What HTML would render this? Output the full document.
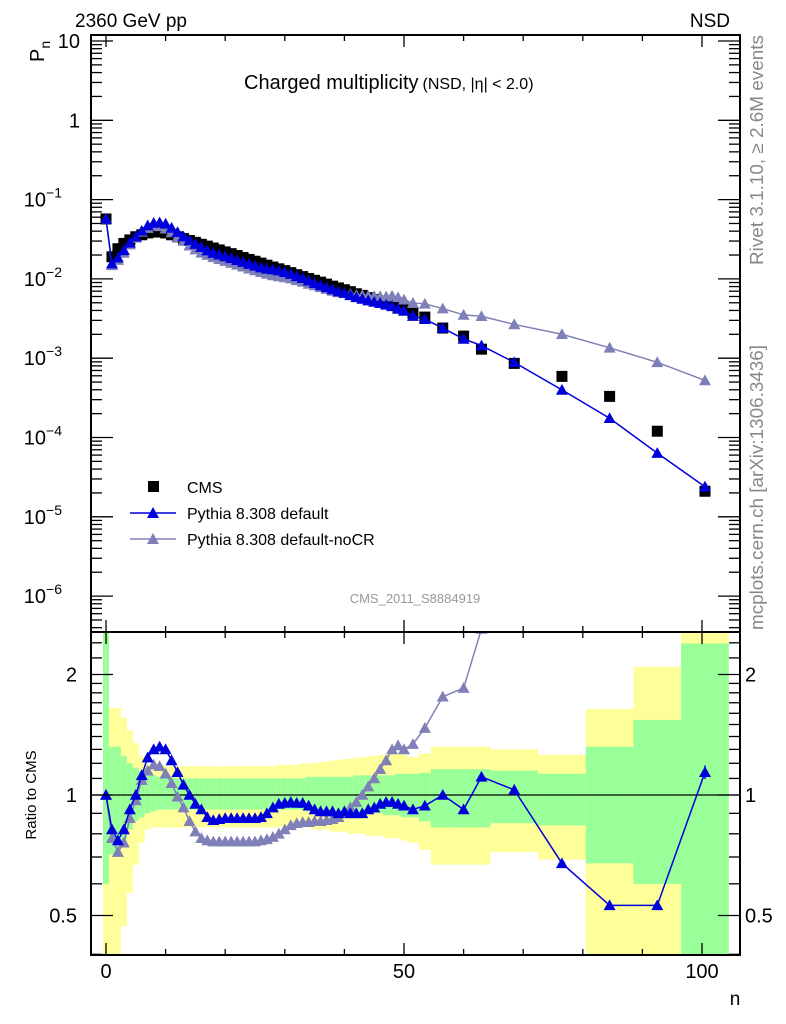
<!DOCTYPE html>
<html><head><meta charset="utf-8">
<style>
html,body{margin:0;padding:0;background:#fff;}
svg{display:block;font-family:"Liberation Sans",sans-serif;}
</style></head>
<body>
<svg id="chart" width="786" height="1024" viewBox="0 0 786 1024" xmlns="http://www.w3.org/2000/svg">
<rect x="0" y="0" width="786" height="1024" fill="#fff"/>
<g id="bands"></g>
<g id="marks"></g>
<g id="axes"></g>
<text x="75" y="27" font-size="19">2360 GeV pp</text>
<text x="730" y="27" font-size="19" text-anchor="end">NSD</text>
<text transform="translate(44,62) rotate(-90)" font-size="20">P<tspan font-size="14" dy="6">n</tspan></text>
<text x="244" y="89" font-size="20">Charged multiplicity<tspan font-size="16" dx="4">(NSD, |η| &lt; 2.0)</tspan></text>
<text transform="translate(763,265) rotate(-90)" font-size="18.5" fill="#888" textLength="230" lengthAdjust="spacingAndGlyphs">Rivet 3.1.10, ≥ 2.6M events</text>
<text transform="translate(763,630) rotate(-90)" font-size="18.5" fill="#888" textLength="285" lengthAdjust="spacingAndGlyphs">mcplots.cern.ch [arXiv:1306.3436]</text>
<text x="415" y="603" font-size="13" fill="#999" text-anchor="middle">CMS_2011_S8884919</text>
<text transform="translate(36,795) rotate(-90)" font-size="15" text-anchor="middle">Ratio to CMS</text>
<text x="735" y="1005" font-size="19" text-anchor="middle">n</text>
<g>
<rect x="148" y="481" width="11" height="11" fill="#000"/>
<text x="187" y="493" font-size="16">CMS</text>
<line x1="130" y1="513" x2="176" y2="513" stroke="#0000dd" stroke-width="1.5"/>
<polygon points="153,507 159,518 147,518" fill="#0000dd"/>
<text x="187" y="519" font-size="16">Pythia 8.308 default</text>
<line x1="130" y1="539" x2="176" y2="539" stroke="#8080b8" stroke-width="1.5"/>
<polygon points="153,533 159,544 147,544" fill="#8080b8"/>
<text x="187" y="545" font-size="16">Pythia 8.308 default-noCR</text>
</g>
</svg>
<script>
// ---- data ----
const nCenters = [0,1,2,3,4,5,6,7,8,9,10,11,12,13,14,15,16,17,18,19,20,21,22,23,24,25,26,27,28,29,30,31,32,33,34,35,36,37,38,39,40,41,42,43,44,45,46,47,48,49,50,51.5,53.5,56.5,60,63,68.5,76.5,84.5,92.5,100.5];
const binLo = [-0.5,0.5,1.5,2.5,3.5,4.5,5.5,6.5,7.5,8.5,9.5,10.5,11.5,12.5,13.5,14.5,15.5,16.5,17.5,18.5,19.5,20.5,21.5,22.5,23.5,24.5,25.5,26.5,27.5,28.5,29.5,30.5,31.5,32.5,33.5,34.5,35.5,36.5,37.5,38.5,39.5,40.5,41.5,42.5,43.5,44.5,45.5,46.5,47.5,48.5,49.5,50.5,52.5,54.5,58.5,61.5,64.5,72.5,80.5,88.5,96.5];
const binHi = [0.5,1.5,2.5,3.5,4.5,5.5,6.5,7.5,8.5,9.5,10.5,11.5,12.5,13.5,14.5,15.5,16.5,17.5,18.5,19.5,20.5,21.5,22.5,23.5,24.5,25.5,26.5,27.5,28.5,29.5,30.5,31.5,32.5,33.5,34.5,35.5,36.5,37.5,38.5,39.5,40.5,41.5,42.5,43.5,44.5,45.5,46.5,47.5,48.5,49.5,50.5,52.5,54.5,58.5,61.5,64.5,72.5,80.5,88.5,96.5,104.5];
const cmsValues = [0.057,0.019,0.024,0.028,0.031,0.034,0.036,0.038,0.039,0.039,0.038,0.036,0.034,0.0322,0.0305,0.0289,0.0273,0.0259,0.0245,0.0232,0.0219,0.0208,0.0197,0.0186,0.0176,0.0167,0.0158,0.0149,0.0141,0.0134,0.0127,0.0120,0.0113,0.0107,0.0101,0.0096,0.0091,0.0086,0.0081,0.0077,0.0073,0.0069,0.0065,0.0062,0.0058,0.0055,0.0052,0.0049,0.0047,0.0044,0.0042,0.0037,0.0033,0.0024,0.0019,0.0013,0.00086,0.00059,0.00033,0.00012,0.000021];
const ratioDefault = [1.0,0.82,0.77,0.82,0.92,1.0,1.12,1.24,1.30,1.32,1.30,1.22,1.14,1.06,1.0,0.95,0.92,0.88,0.865,0.87,0.875,0.875,0.875,0.875,0.875,0.875,0.88,0.90,0.93,0.95,0.955,0.96,0.955,0.955,0.94,0.92,0.91,0.91,0.91,0.90,0.91,0.90,0.90,0.90,0.92,0.93,0.95,0.96,0.96,0.95,0.94,0.92,0.94,1.0,0.92,1.11,1.03,0.675,0.53,0.53,1.14];
const ratioNoCR = [1.0,0.78,0.72,0.76,0.875,0.97,1.09,1.15,1.19,1.18,1.13,1.07,0.99,0.93,0.86,0.81,0.78,0.77,0.765,0.765,0.765,0.765,0.765,0.765,0.765,0.765,0.77,0.775,0.785,0.80,0.82,0.84,0.85,0.855,0.855,0.86,0.86,0.865,0.87,0.88,0.90,0.93,0.96,1.0,1.05,1.10,1.16,1.22,1.30,1.33,1.30,1.34,1.47,1.76,1.85,2.6,3.1,3.4,4.1,7.4,25];
const statUp = [3.0,1.32,1.32,1.25,1.20,1.17,1.15,1.13,1.12,1.11,1.11,1.11,1.10,1.10,1.10,1.10,1.10,1.10,1.10,1.10,1.10,1.10,1.10,1.10,1.10,1.10,1.10,1.10,1.10,1.10,1.10,1.10,1.10,1.10,1.11,1.11,1.11,1.11,1.11,1.11,1.11,1.11,1.12,1.12,1.12,1.12,1.12,1.12,1.12,1.13,1.13,1.13,1.135,1.16,1.16,1.16,1.15,1.13,1.32,1.54,2.39];
const statDn = [0.60,0.71,0.70,0.76,0.82,0.86,0.88,0.90,0.91,0.92,0.92,0.92,0.92,0.92,0.92,0.92,0.92,0.92,0.92,0.92,0.92,0.92,0.92,0.92,0.92,0.92,0.92,0.92,0.92,0.92,0.92,0.92,0.92,0.92,0.91,0.91,0.91,0.91,0.91,0.91,0.90,0.90,0.90,0.90,0.90,0.90,0.90,0.89,0.89,0.89,0.88,0.88,0.86,0.83,0.83,0.83,0.85,0.84,0.675,0.60,0.3];
const totUp = [3.0,1.65,1.65,1.56,1.45,1.35,1.25,1.19,1.19,1.19,1.18,1.18,1.18,1.18,1.18,1.18,1.18,1.18,1.18,1.18,1.18,1.18,1.18,1.18,1.18,1.18,1.18,1.18,1.18,1.19,1.19,1.19,1.19,1.20,1.20,1.20,1.21,1.21,1.22,1.22,1.23,1.23,1.24,1.24,1.25,1.25,1.26,1.26,1.27,1.27,1.28,1.245,1.27,1.32,1.32,1.32,1.30,1.26,1.64,2.09,3.0];
const totDn = [0.3,0.3,0.3,0.47,0.57,0.67,0.76,0.82,0.83,0.83,0.83,0.83,0.83,0.83,0.83,0.83,0.83,0.83,0.83,0.83,0.83,0.83,0.83,0.83,0.83,0.83,0.83,0.83,0.83,0.83,0.83,0.83,0.83,0.83,0.83,0.82,0.82,0.82,0.81,0.81,0.81,0.80,0.80,0.80,0.79,0.79,0.79,0.78,0.78,0.78,0.77,0.76,0.73,0.67,0.67,0.67,0.72,0.69,0.3,0.3,0.3];
const mainTickLabels = ["10","1","10","10","10","10","10","10"];
const mainTickExps = ["","","−1","−2","−3","−4","−5","−6"];
const ratioTickLabels = ["0.5","1","2"];
const xTickLabels = ["0","50","100"];

// ---- geometry ----
const L=91,R=740,T=35,MB=632,RB=955;
const xS = v => 106 + v*5.96;
const yM = v => 41 + (1 - Math.log10(v))*79.3;
const yR = v => 795 - Math.log2(v)*120.5;
const NS="http://www.w3.org/2000/svg";
function mk(tag,parent,attrs){const e=document.createElementNS(NS,tag);for(const k in attrs)e.setAttribute(k,attrs[k]);parent.appendChild(e);return e;}
const bands=document.getElementById('bands'), marks=document.getElementById('marks'), axes=document.getElementById('axes');
const cy = v => Math.min(RB, Math.max(MB, yR(v)));

// bands
for(let i=0;i<nCenters.length;i++){
  const x1=Math.max(L,xS(binLo[i])), x2=Math.min(R,xS(binHi[i]));
  const y=mk('rect',bands,{x:x1,y:cy(totUp[i]),width:x2-x1,height:cy(totDn[i])-cy(totUp[i]),fill:'#ffff99'});
  
  
  const g=mk('rect',bands,{x:x1,y:cy(statUp[i]),width:x2-x1,height:cy(statDn[i])-cy(statUp[i]),fill:'#99ff99'});
  
  
}
const ul=mk('line',marks,{x1:L,x2:R,y1:yR(1),y2:yR(1),stroke:'#000','stroke-width':1.3});



function tri(parent,x,y,col,s){return mk('polygon',parent,{points:`${x},${y-s} ${x+s},${y+s*0.8} ${x-s},${y+s*0.8}`,fill:col});}

const defs=mk('defs',document.getElementById('chart'),{});
const c1=mk('clipPath',defs,{id:'cm'});mk('rect',c1,{x:L,y:T,width:R-L,height:MB-T});
const c2=mk('clipPath',defs,{id:'cr'});mk('rect',c2,{x:L,y:MB,width:R-L,height:RB-MB});
const gm=mk('g',marks,{'clip-path':'url(#cm)'});
const gr=mk('g',marks,{'clip-path':'url(#cr)'});

function series(ratio,col,name){
  const ptsM=nCenters.map((n,i)=>`${xS(n)},${yM(cmsValues[i]*ratio[i])}`).join(' ');
  const pl=mk('polyline',gm,{points:ptsM,fill:'none',stroke:col,'stroke-width':1.5});
  
  
  const ptsR=nCenters.map((n,i)=>`${xS(n)},${yR(ratio[i])}`).join(' ');
  const pr=mk('polyline',gr,{points:ptsR,fill:'none',stroke:col,'stroke-width':1.5});
  
  
  nCenters.forEach((n,i)=>{
    const t=tri(gm,xS(n),yM(cmsValues[i]*ratio[i]),col,6);
    
    
    const t2=tri(gr,xS(n),yR(ratio[i]),col,6);
    
    
  });
}
nCenters.forEach((n,i)=>{
  const s=mk('rect',gm,{x:xS(n)-5.5,y:yM(cmsValues[i])-5.5,width:11,height:11,fill:'#000'});
  
  
});
series(ratioNoCR,'#8080b8','pythia-nocr');
series(ratioDefault,'#0000dd','pythia-default');
{const i=nCenters.length-1;mk('line',gr,{x1:xS(nCenters[i]),x2:xS(nCenters[i]),y1:yR(ratioDefault[i]*1.04),y2:yR(ratioDefault[i]/1.04),stroke:'#0000dd','stroke-width':1.5});}

const f1=mk('rect',axes,{x:L,y:T,width:R-L,height:MB-T,fill:'none',stroke:'#000','stroke-width':2});


const f2=mk('rect',axes,{x:L,y:MB,width:R-L,height:RB-MB,fill:'none',stroke:'#000','stroke-width':2});


function tk(x1,y1,x2,y2){mk('line',axes,{x1,y1,x2,y2,stroke:'#000','stroke-width':1.3});}
for(let d=0;d<8;d++){
  const v=Math.pow(10,1-d), y=yM(v);
  tk(L,y,L+22,y);tk(R,y,R-22,y);
  const t=mk('text',axes,{x:80,y:y+7,'font-size':20,'text-anchor':'end'});
  t.textContent=mainTickLabels[d];
  
  
  if(mainTickExps[d]){t.setAttribute('x',62);const sp=mk('tspan',t,{'font-size':14,dy:-9});sp.textContent=mainTickExps[d];}
  if(d<7) for(let m=2;m<=9;m++){const ym=yM(v/10*m);if(ym>T&&ym<MB){tk(L,ym,L+11,ym);tk(R,ym,R-11,ym);}}
}
for(let m=2;m<=9;m++){const ym=yM(1e-7*m);if(ym>T&&ym<MB){tk(L,ym,L+11,ym);tk(R,ym,R-11,ym);}}
[0.5,1,2].forEach((v,i)=>{const y=yR(v);tk(L,y,L+22,y);tk(R,y,R-22,y);
  const a=mk('text',axes,{x:77,y:y+7,'font-size':20,'text-anchor':'end'});a.textContent=ratioTickLabels[i];
  
  
  const b=mk('text',axes,{x:745,y:y+7,'font-size':20});b.textContent=ratioTickLabels[i];
  
  });
[0.4,0.6,0.7,0.8,0.9,1.1,1.2,1.3,1.4,1.5,1.6,1.7,1.8,1.9,2.2,2.4].forEach(v=>{const y=yR(v);if(y>MB&&y<RB){tk(L,y,L+11,y);tk(R,y,R-11,y);}});
for(let v=0;v<=100;v+=10){const x=xS(v),big=v%50===0,l=big?12:6;
  tk(x,RB,x,RB-l);tk(x,MB,x,MB+l);tk(x,MB,x,MB-l);tk(x,T,x,T+l);}
xTickLabels.forEach(s=>{const t=mk('text',axes,{x:xS(+s),y:978,'font-size':20,'text-anchor':'middle'});t.textContent=s;
  
  });
</script>
</body></html>
